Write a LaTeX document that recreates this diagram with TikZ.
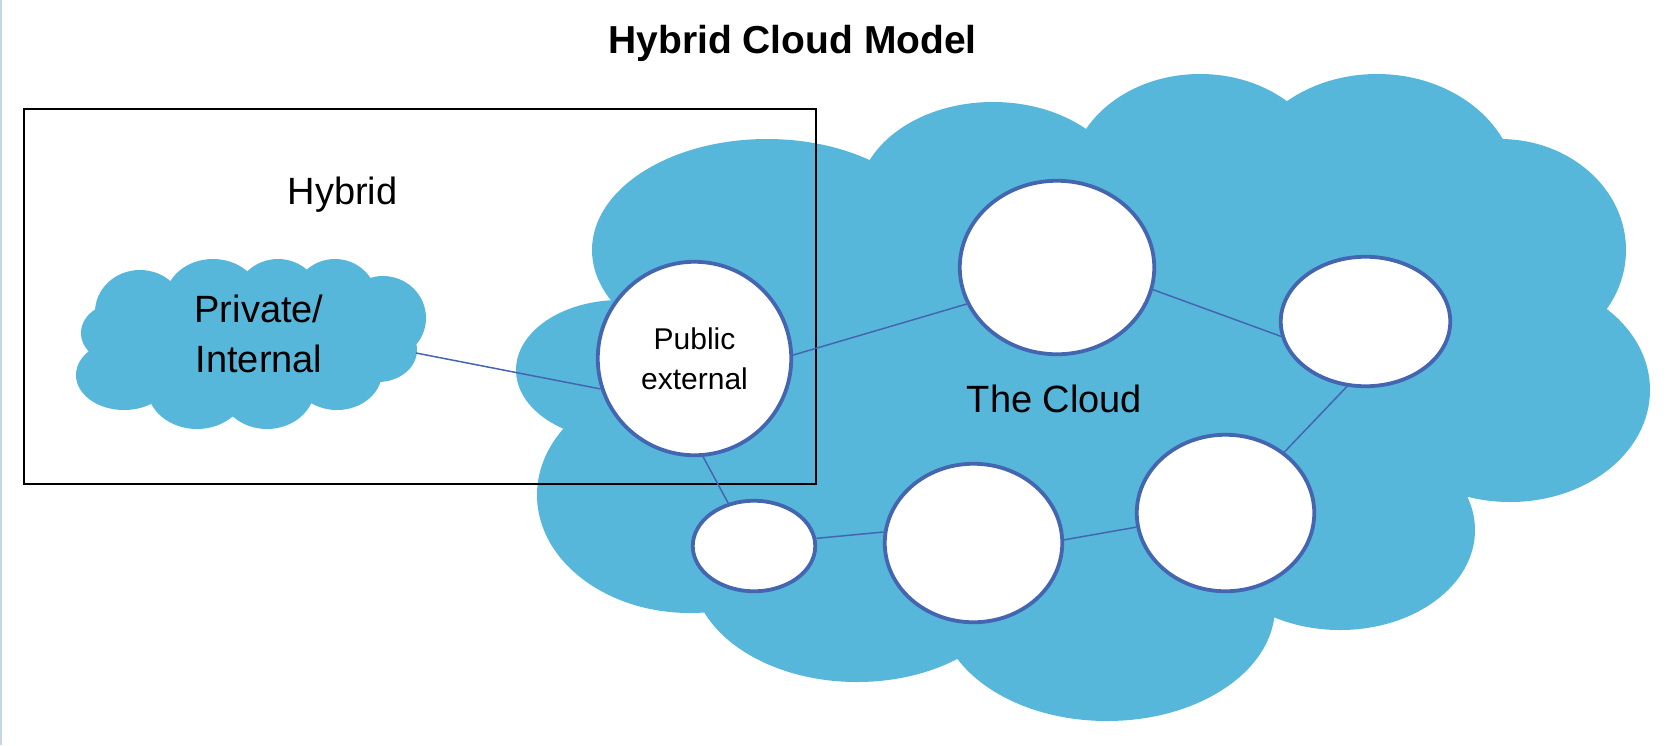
\documentclass[tikz,border=0pt]{standalone}
\usepackage{fontspec}
\setmainfont{Liberation Sans}
\usepackage{tikz}
\usetikzlibrary{%
  positioning
 ,shapes.geometric
}
\definecolor{cloudblue}{RGB}{87,183,219}
\definecolor{ringblue}{RGB}{68,102,176}
\definecolor{edgegray}{RGB}{200,214,228}
\tikzstyle{hyb}=[x=0.5pt,y=-0.5pt]
\tikzstyle{srv}=[ellipse,draw=ringblue,line width=1.9pt,fill=white,inner sep=0pt]
\tikzstyle{lnk}=[draw=ringblue,line width=0.75pt]
\tikzstyle{txt}=[inner sep=0pt,align=center,font=\fontsize{19}{25}\selectfont]
\tikzstyle{ttl}=[inner sep=0pt,font=\fontsize{19.5}{24}\selectfont\bfseries]
\tikzstyle{cld}=[fill=cloudblue]

\begin{document}
\begin{tikzpicture}[hyb]
      \useasboundingbox (0,0) rectangle (1674,745);
      \draw[edgegray,line width=1pt] (1,0) -- (1,745);
      % the public cloud
      \fill[cld]
        (767,250) ellipse [x radius=175,y radius=111]
        (993,200) ellipse [x radius=135,y radius=98]
        (1200,180) ellipse [x radius=130,y radius=106]
        (1377,190) ellipse [x radius=140,y radius=116]
        (1500,250) ellipse [x radius=126,y radius=111]
        (1510,390) ellipse [x radius=140,y radius=112]
        (1340,530) ellipse [x radius=135,y radius=100]
        (1107,607) ellipse [x radius=168,y radius=114]
        (857,570) ellipse [x radius=165,y radius=112]
        (690,495) ellipse [x radius=153,y radius=118]
        (620,370) ellipse [x radius=104,y radius=70]
        (1080,390) ellipse [x radius=420,y radius=220];
      % the private cloud
      \fill[cld]
        (140,312) ellipse [x radius=45,y radius=42]
        (213,300) ellipse [x radius=48,y radius=41]
        (278,298) ellipse [x radius=42,y radius=39]
        (335,300) ellipse [x radius=42,y radius=41]
        (383,318) ellipse [x radius=43,y radius=42]
        (378,350) ellipse [x radius=39,y radius=32]
        (118,333) ellipse [x radius=37,y radius=30]
        (124,375) ellipse [x radius=48,y radius=35]
        (197,387) ellipse [x radius=50,y radius=42]
        (267,387) ellipse [x radius=48,y radius=42]
        (337,372) ellipse [x radius=45,y radius=38]
        (250,340) ellipse [x radius=140,y radius=55];
      \draw[black,line width=0.85pt] (23.7,109) rectangle (816,484);
      \node[ttl,anchor=base] (title) at (792.5,53) {Hybrid Cloud Model};
      \node[txt,anchor=base] (hybrid) at (342.5,204) {Hybrid};
      \node[txt] (priv) at (259,334) {Private/\\Internal};
      \coordinate (priv_e) at (416,353);
      \node[txt,anchor=base] (cloud) at (1054.5,412) {The Cloud};
      \node[srv,minimum width=96.75pt,minimum height=96.75pt,
            font=\fontsize{15}{20}\selectfont,align=center] (pub) at (694.5,358.5) {Public\\external};
      \node[srv,minimum width=97.25pt,minimum height=86.75pt] (n_1) at (1057,267.5) {};
      \node[srv,minimum width=84.75pt,minimum height=64.75pt] (n_2) at (1365.5,321.5) {};
      \node[srv,minimum width=88.75pt,minimum height=78.25pt] (n_3) at (1225.5,513) {};
      \node[srv,minimum width=88.75pt,minimum height=79.25pt] (n_4) at (973.5,543) {};
      \node[srv,minimum width=61.25pt,minimum height=45.25pt] (n_5) at (754,546) {};
      \path[lnk]
        (priv_e) -- (pub.198)
        (pub.2) -- (n_1.202)
        (n_1.-13) -- (n_2.190)
        (n_2.254) -- (n_3.46)
        (n_3.189) -- (n_4.2)
        (n_4.173) -- (n_5.7)
        (n_5.121) -- (pub.275);
    \end{tikzpicture}
\end{document}
